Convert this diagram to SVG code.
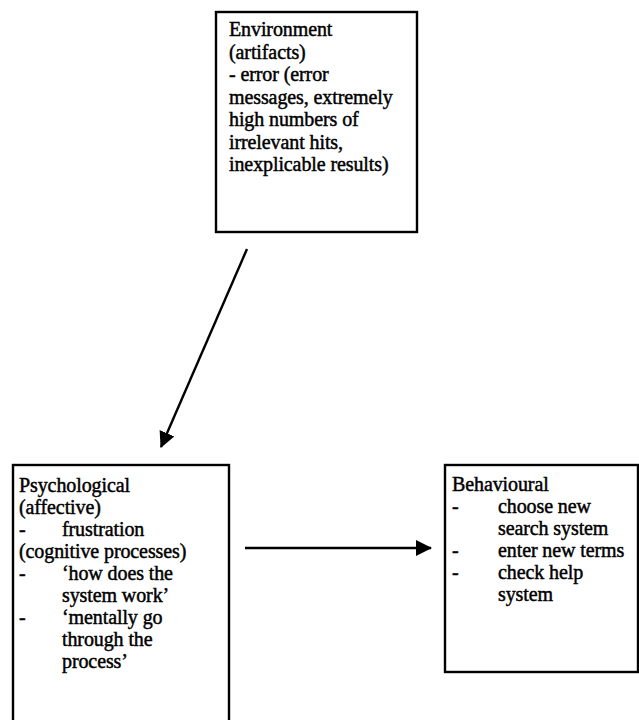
<svg xmlns="http://www.w3.org/2000/svg" width="639" height="720" viewBox="0 0 639 720">
  <style>
    .box { fill: #ffffff; stroke: #000000; stroke-width: 2.4; }
    .lbl { font-family: "Liberation Serif", "Times New Roman", serif; font-size: 20px; letter-spacing: -0.1px; fill: #000000; stroke: #000000; stroke-width: 0.45; }
    .edge { stroke: #000000; stroke-width: 2.4; fill: none; }
  </style>
  <defs>
    <marker id="arrow" viewBox="0 0 16 16" refX="15" refY="8" markerWidth="16" markerHeight="16" markerUnits="userSpaceOnUse" orient="auto">
      <path d="M0,0 L16,8 L0,16 Z" fill="#000000"/>
    </marker>
  </defs>
  <rect width="639" height="720" fill="#ffffff"/>

  <g id="environment">
    <rect class="box" x="216" y="12" width="201" height="220"/>
    <text class="lbl">
      <tspan x="229" y="36">Environment</tspan>
      <tspan x="229" y="59">(artifacts)</tspan>
      <tspan x="229" y="81">- error (error</tspan>
      <tspan x="229" y="104">messages, extremely</tspan>
      <tspan x="229" y="126">high numbers of</tspan>
      <tspan x="229" y="149">irrelevant hits,</tspan>
      <tspan x="229" y="171">inexplicable results)</tspan>
    </text>
  </g>

  <g id="psychological">
    <rect class="box" x="13" y="465" width="216" height="265"/>
    <text class="lbl">
      <tspan x="19" y="492">Psychological</tspan>
      <tspan x="19" y="514">(affective)</tspan>
      <tspan x="19" y="536">-</tspan>
      <tspan x="62" y="536">frustration</tspan>
      <tspan x="19" y="558">(cognitive processes)</tspan>
      <tspan x="19" y="580">-</tspan>
      <tspan x="62" y="580">‘how does the</tspan>
      <tspan x="62" y="602">system work’</tspan>
      <tspan x="19" y="624">-</tspan>
      <tspan x="62" y="624">‘mentally go</tspan>
      <tspan x="62" y="646">through the</tspan>
      <tspan x="62" y="668">process’</tspan>
    </text>
  </g>

  <g id="behavioural">
    <rect class="box" x="445" y="465" width="193" height="207"/>
    <text class="lbl">
      <tspan x="452" y="491">Behavioural</tspan>
      <tspan x="452" y="513">-</tspan>
      <tspan x="498" y="513">choose new</tspan>
      <tspan x="498" y="535">search system</tspan>
      <tspan x="452" y="557">-</tspan>
      <tspan x="498" y="557">enter new terms</tspan>
      <tspan x="452" y="579">-</tspan>
      <tspan x="498" y="579">check help</tspan>
      <tspan x="498" y="601">system</tspan>
    </text>
  </g>

  <g id="connectors">
    <line class="edge" x1="247" y1="249" x2="161" y2="447" marker-end="url(#arrow)"/>
    <line class="edge" x1="245" y1="548" x2="431" y2="548" marker-end="url(#arrow)"/>
  </g>
</svg>
